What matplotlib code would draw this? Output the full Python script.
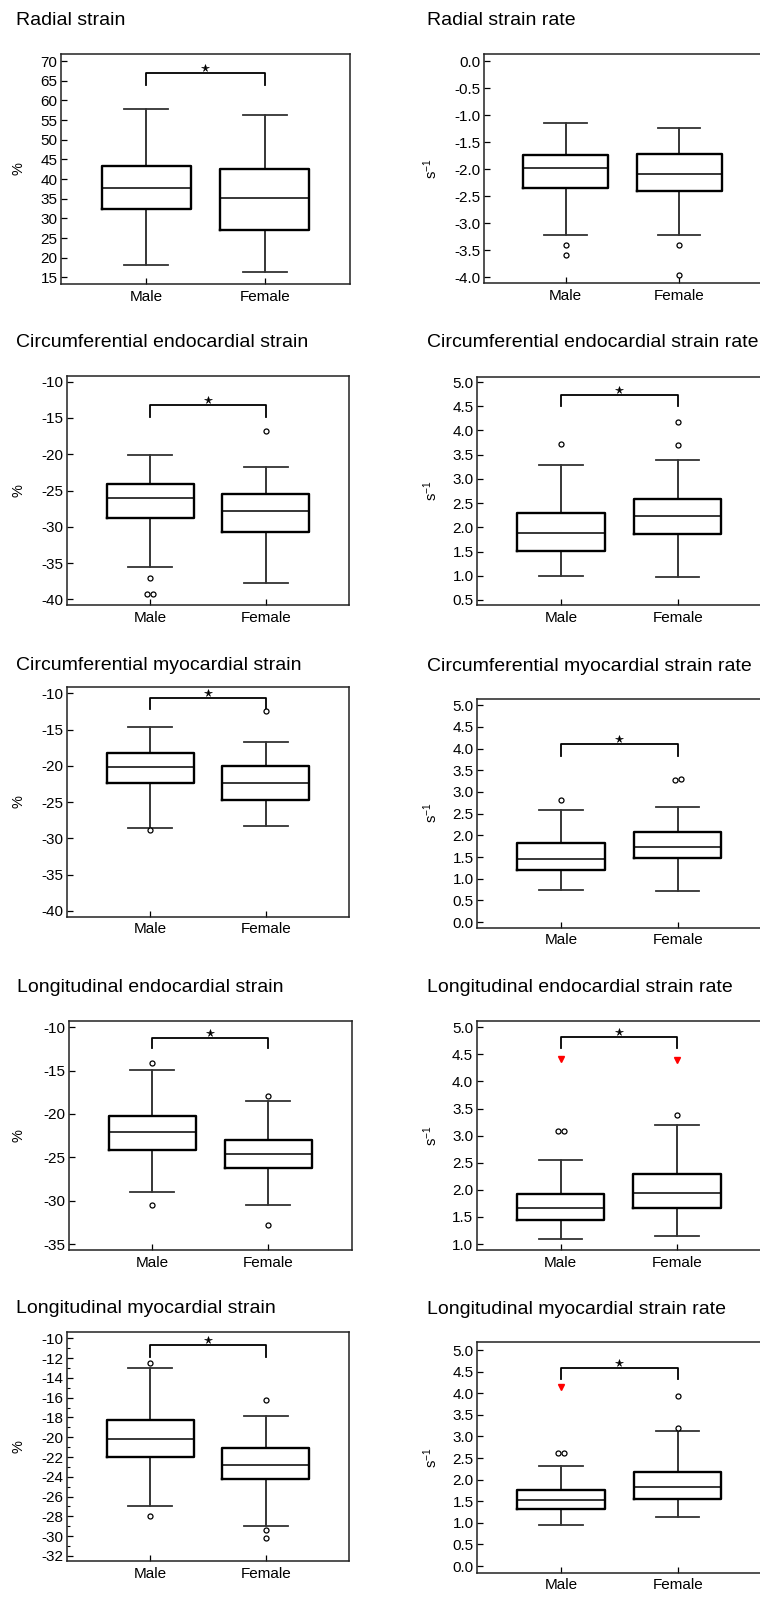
import numpy as np
import matplotlib
matplotlib.use('Agg')
import matplotlib.pyplot as plt
import matplotlib.transforms as mtransforms
from matplotlib.ticker import MultipleLocator, FormatStrFormatter

plt.rcParams['font.family'] = ['Liberation Sans', 'DejaVu Sans']
plt.rcParams['axes.unicode_minus'] = False
plt.rcParams['mathtext.fontset'] = 'custom'
plt.rcParams['mathtext.rm'] = 'Liberation Sans'
plt.rcParams['mathtext.default'] = 'regular'

groups = ['Male', 'Female']

titles = ['Radial strain', 'Radial strain rate',
          'Circumferential endocardial strain', 'Circumferential endocardial strain rate',
          'Circumferential myocardial strain', 'Circumferential myocardial strain rate',
          'Longitudinal endocardial strain', 'Longitudinal endocardial strain rate',
          'Longitudinal myocardial strain', 'Longitudinal myocardial strain rate']
units = ['%', 's$^{-1}$'] * 5

# whisker low, Q1, median, Q3, whisker high
male_stats = [
    [18.1, 32.3, 37.8, 43.4, 57.9],
    [-3.22, -2.34, -1.98, -1.74, -1.14],
    [-35.5, -28.8, -26.1, -24.1, -20.15],
    [1.00, 1.52, 1.89, 2.30, 3.29],
    [-28.5, -22.4, -20.2, -18.2, -14.7],
    [0.74, 1.20, 1.45, 1.83, 2.58],
    [-29.0, -24.15, -22.1, -20.2, -14.9],
    [1.09, 1.44, 1.67, 1.92, 2.55],
    [-26.9, -22.0, -20.2, -18.25, -13.0],
    [0.95, 1.32, 1.53, 1.77, 2.31],
]
female_stats = [
    [16.4, 27.0, 35.1, 42.5, 56.2],
    [-3.21, -2.40, -2.09, -1.72, -1.23],
    [-37.8, -30.7, -27.8, -25.5, -21.7],
    [0.97, 1.86, 2.23, 2.58, 3.40],
    [-28.3, -24.7, -22.4, -20.0, -16.7],
    [0.72, 1.47, 1.73, 2.07, 2.66],
    [-30.5, -26.2, -24.6, -23.0, -18.5],
    [1.14, 1.67, 1.95, 2.29, 3.20],
    [-29.0, -24.25, -22.8, -21.1, -17.9],
    [1.13, 1.54, 1.84, 2.18, 3.12],
]
male_fliers = [[], [-3.41, -3.59], [-37.1, -39.3, -39.3], [3.72], [-28.8],
               [2.81], [-14.1, -30.5], [3.09, 3.09], [-12.5, -28.0], [2.62, 2.62]]
female_fliers = [[], [-3.41, -3.96], [-16.8], [4.17, 3.69], [-12.4],
                 [3.28, 3.30], [-17.9, -32.85], [3.38], [-16.2, -29.4, -30.2], [3.94, 3.19]]
# values flagged in red
male_flagged = [[], [], [], [], [], [], [], [4.41], [], [4.15]]
female_flagged = [[], [], [], [], [], [], [], [4.40], [], []]
# significance bracket: top, end of legs
brackets = [(66.9, 64.0), None, (-13.2, -14.8), (4.74, 4.51), (-10.7, -12.2),
            (4.11, 3.83), (-11.2, -12.4), (4.82, 4.61), (-10.7, -11.85), (4.59, 4.34)]

y_limits = [(13.3, 71.8), (-4.11, 0.13), (-40.83, -9.21), (0.39, 5.11), (-40.79, -9.17),
            (-0.13, 5.15), (-35.69, -9.24), (0.89, 5.12), (-32.51, -9.33), (-0.155, 5.18)]
y_ticks = [(15, 70, 5), (-4.0, 0.0, 0.5), (-40, -10, 5), (0.5, 5.0, 0.5), (-40, -10, 5),
           (0.0, 5.0, 0.5), (-35, -10, 5), (1.0, 5.0, 0.5), (-32, -10, 2), (0.0, 5.0, 0.5)]

# layout in pixels: left, top, right, bottom
W, H = 760, 1597
axes_px = [(61, 54, 350, 284), (483.7, 54, 761, 283.3),
           (66.7, 376, 349.3, 605.3), (477.3, 376.7, 761.5, 605.3),
           (66.7, 687.3, 349.3, 916.7), (477.3, 698.7, 761.5, 927.7),
           (68.7, 1020.7, 351.7, 1250), (476.7, 1020.7, 761, 1250),
           (66.7, 1331.7, 349.3, 1561), (477.3, 1342.3, 761.5, 1572.7)]
title_px = [(16, 25), (426.7, 25), (16, 347), (426.7, 347), (16, 669.5), (426.7, 670.7),
            (16.7, 991.7), (426.7, 991.7), (16, 1313.3), (426.7, 1314.3)]
ylabel_x = [18.5, 431]


def dodge(vals, tol):
    # put near-identical outliers side by side
    xs = np.zeros(len(vals))
    used = [False] * len(vals)
    for i in range(len(vals)):
        if used[i]:
            continue
        grp = [j for j in range(len(vals)) if not used[j] and abs(vals[j] - vals[i]) < tol]
        for k, j in enumerate(grp):
            used[j] = True
            xs[j] = (k - (len(grp) - 1) / 2) * 0.05
    return xs


fig = plt.figure(figsize=(W / 100, H / 100), dpi=100)

for i in range(10):
    l, t, r, b = axes_px[i]
    ax = fig.add_axes([l / W, 1 - b / H, (r - l) / W, (b - t) / H])
    stats = []
    for s in (male_stats[i], female_stats[i]):
        stats.append(dict(whislo=s[0], q1=s[1], med=s[2], q3=s[3], whishi=s[4], fliers=[]))
    ax.bxp(stats, positions=[1, 2], widths=0.75, showfliers=False,
           boxprops=dict(lw=1.7, color='black'),
           medianprops=dict(lw=1.1, color='black'),
           whiskerprops=dict(lw=1.1, color='black'),
           capprops=dict(lw=1.3, color='#333333'))
    ylo, yhi = y_limits[i]
    tol = 0.015 * (yhi - ylo)
    for pos, fl in zip([1, 2], [male_fliers[i], female_fliers[i]]):
        if fl:
            ax.plot(pos + dodge(fl, tol), fl, 'o', mfc='white', mec='black', ms=3.6, mew=0.9,
                    zorder=4)
    for pos, fl in zip([1, 2], [male_flagged[i], female_flagged[i]]):
        if fl:
            ax.plot([pos] * len(fl), fl, 'v', color='red', ms=5, zorder=4)
    if brackets[i] is not None:
        top, leg = brackets[i]
        ax.plot([1, 1, 2, 2], [leg, top, top, leg], color='black', lw=1.3)
        star_tr = mtransforms.offset_copy(ax.transData, fig=fig, y=5, units='dots')
        ax.plot([1.5], [top], marker='*', color='black', ms=5.5, mew=0.4,
                transform=star_tr)

    ax.set_xlim(0.28, 2.72)
    ax.set_ylim(ylo, yhi)
    a, z, st = y_ticks[i]
    ax.set_yticks(np.arange(a, z + st / 2, st))
    if i % 2 == 1:
        ax.yaxis.set_major_formatter(FormatStrFormatter('%.1f'))
    else:
        ax.yaxis.set_major_formatter(FormatStrFormatter('%d'))
    if i == 8:
        ax.yaxis.set_minor_locator(MultipleLocator(1))
        ax.tick_params(axis='y', which='minor', direction='in', length=2.5, width=0.8)
    ax.set_xticks([1, 2])
    ax.set_xticklabels(groups)
    ax.tick_params(axis='y', direction='in', length=4, width=0.9, labelsize=11, pad=2.5)
    ax.tick_params(axis='x', direction='in', length=4, width=0.9, labelsize=11, pad=4)
    for sp in ax.spines.values():
        sp.set_linewidth(1.1)
        sp.set_color('#222222')

    fig.text(title_px[i][0] / W, 1 - title_px[i][1] / H, titles[i], fontsize=14,
             ha='left', va='baseline')
    fig.text(ylabel_x[i % 2] / W, 1 - (t + b) / 2 / H, units[i], fontsize=10.5,
             rotation=90, ha='center', va='center')

fig.savefig('out.png', dpi=100)
